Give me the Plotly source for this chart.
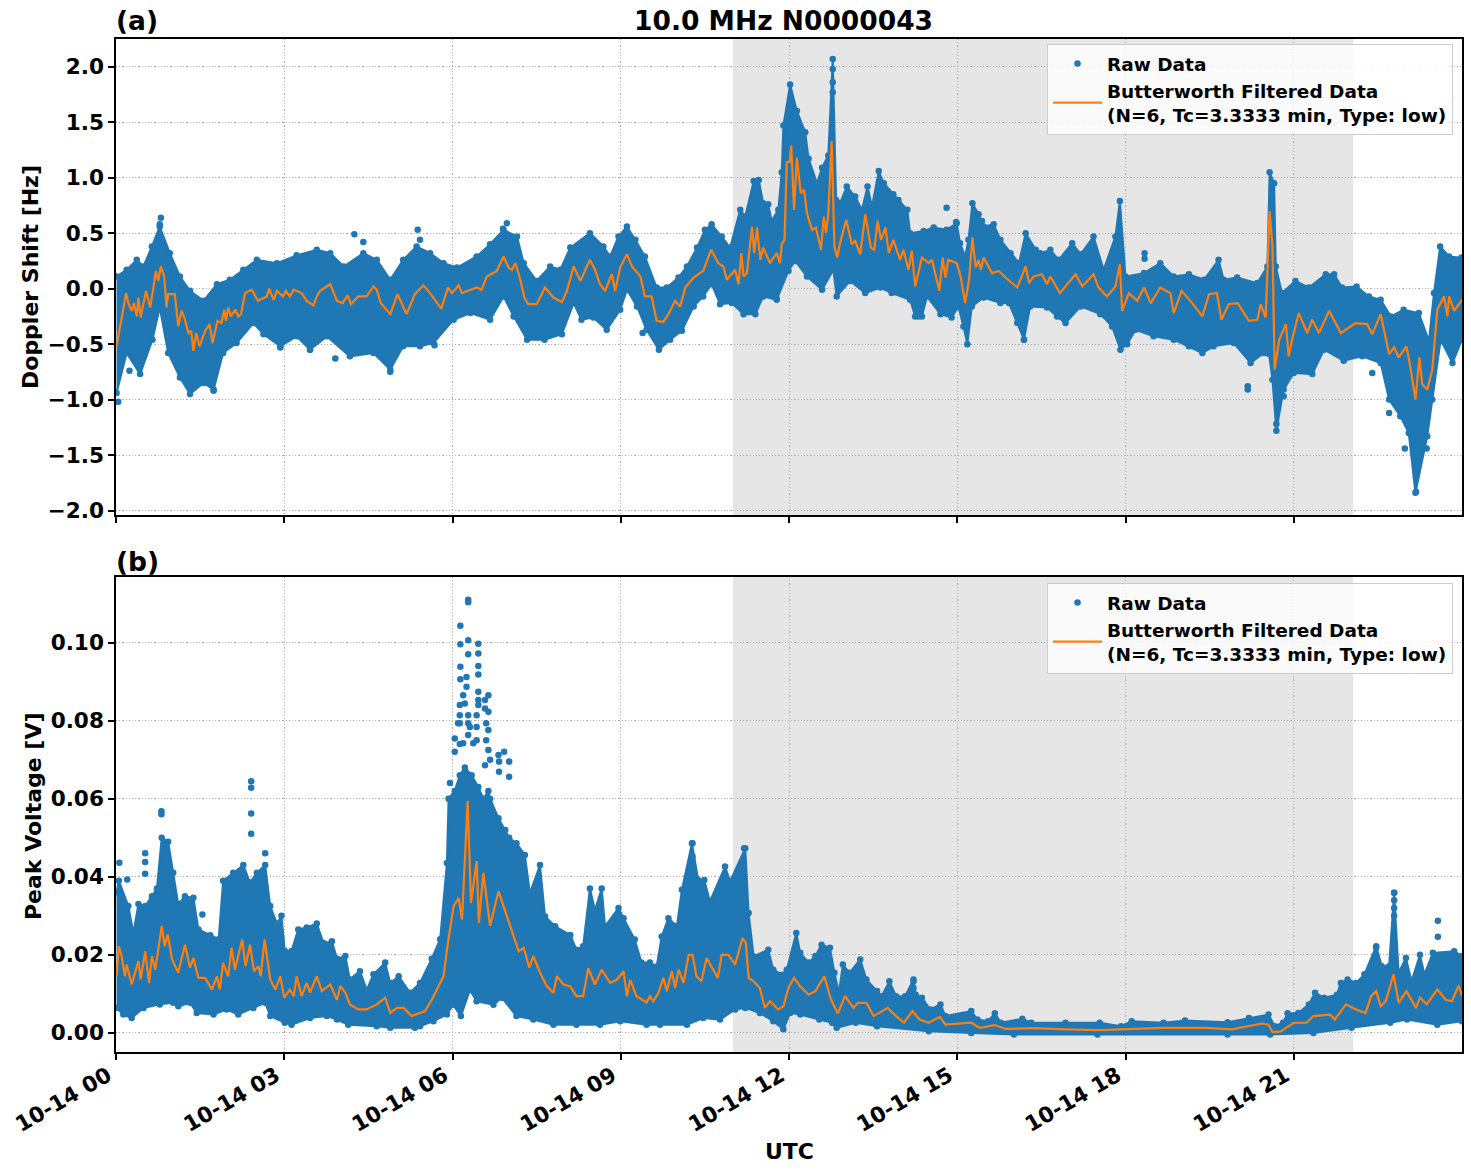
import pandas as pd
import plotly.graph_objects as go

# ---------- panel (a) Doppler shift: upper / lower edge of the raw cloud ----------
a_up_h = [0.01,0.19,0.37,0.49,0.64,0.78,0.96,1.14,1.32,1.56,1.8,2.03,2.27,2.51,2.87,3.22,3.58,3.82,4.06,4.41,4.65,4.89,5.12,5.36,5.6,5.84,6.08,6.43,6.67,6.91,7.15,7.27,7.5,7.74,7.92,8.1,8.45,8.69,8.81,8.96,9.11,9.26,9.43,9.64,9.82,10.03,10.18,10.36,10.5,10.62,10.8,10.95,11.13,11.22,11.37,11.46,11.54,11.63,11.69,11.81,11.87,11.9,12.02,12.14,12.29,12.35,12.5,12.59,12.7,12.78,12.84,12.91,13.03,13.18,13.3,13.4,13.48,13.6,13.69,13.86,13.95,14.11,14.16,14.4,14.58,14.81,14.99,15.05,15.14,15.2,15.27,15.38,15.47,15.65,15.77,15.95,16.1,16.22,16.4,16.48,16.66,16.81,17.05,17.2,17.43,17.61,17.82,17.9,18.0,18.33,18.62,18.86,19.13,19.4,19.66,19.75,19.99,20.35,20.53,20.57,20.65,20.68,20.79,21.03,21.27,21.57,21.72,21.86,22.12,22.34,22.55,22.73,22.96,23.23,23.41,23.5,23.61,23.77,23.99]
a_up_v = [0.11,0.17,0.26,0.2,0.38,0.56,0.32,0.11,-0.02,-0.11,0.04,0.08,0.17,0.26,0.23,0.3,0.35,0.32,0.2,0.32,0.26,0.08,0.26,0.38,0.32,0.23,0.19,0.29,0.4,0.53,0.47,0.23,0.07,0.2,0.17,0.37,0.5,0.38,0.29,0.47,0.56,0.44,0.29,0.01,0.01,0.1,0.2,0.37,0.53,0.58,0.47,0.37,0.71,0.65,0.97,0.98,0.77,0.76,0.61,0.71,1.05,1.47,1.84,1.6,1.41,1.17,0.95,1.09,1.2,2.07,0.8,0.77,0.92,0.83,0.71,0.92,0.74,1.06,0.95,0.85,0.8,0.71,0.5,0.52,0.55,0.53,0.59,0.41,0.29,0.44,0.77,0.67,0.56,0.58,0.44,0.32,0.23,0.5,0.35,0.32,0.35,0.26,0.41,0.31,0.47,0.17,0.47,0.79,0.11,0.14,0.23,0.11,0.13,0.08,0.26,0.08,0.1,0.05,0.2,1.05,0.95,0.2,-0.04,0.07,0.01,0.13,0.13,0.01,0.02,-0.07,-0.1,-0.25,-0.19,-0.22,-0.47,-0.04,0.38,0.29,0.28]
a_lo_h = [0.01,0.19,0.43,0.65,0.78,0.93,1.14,1.32,1.56,1.74,1.91,2.15,2.45,2.63,2.93,3.22,3.46,3.76,4.17,4.59,4.89,5.12,5.42,5.66,6.02,6.32,6.67,6.91,7.09,7.33,7.64,7.95,8.16,8.3,8.51,8.75,8.99,9.11,9.29,9.46,9.68,9.88,10.09,10.3,10.47,10.62,10.77,10.98,11.19,11.4,11.54,11.78,11.99,12.11,12.32,12.59,12.79,12.85,13.09,13.36,13.63,13.83,14.16,14.25,14.37,14.46,14.7,14.9,15.02,15.11,15.18,15.26,15.47,15.77,15.92,16.07,16.19,16.3,16.6,16.78,16.93,17.2,17.55,17.76,17.91,18.03,18.18,18.5,18.86,19.13,19.37,19.57,19.93,20.23,20.47,20.56,20.62,20.69,20.82,21.0,21.33,21.54,21.89,22.22,22.55,22.7,22.9,23.05,23.17,23.38,23.47,23.62,23.83,24.0]
a_lo_v = [-0.94,-0.58,-0.77,-0.46,-0.17,-0.58,-0.8,-0.95,-0.85,-0.91,-0.58,-0.49,-0.31,-0.41,-0.52,-0.43,-0.55,-0.43,-0.61,-0.58,-0.73,-0.52,-0.52,-0.49,-0.28,-0.22,-0.28,-0.07,-0.25,-0.46,-0.46,-0.41,-0.13,-0.28,-0.26,-0.37,-0.19,-0.01,-0.16,-0.37,-0.55,-0.46,-0.38,-0.16,-0.07,0.04,-0.14,-0.13,-0.23,-0.23,-0.07,-0.1,0.16,0.25,0.11,-0.01,0.17,-0.07,0.07,-0.04,0.01,-0.04,-0.1,-0.25,-0.25,-0.07,-0.23,-0.26,-0.16,-0.34,-0.5,-0.16,-0.08,-0.13,-0.13,-0.31,-0.46,-0.16,-0.17,-0.25,-0.31,-0.16,-0.23,-0.34,-0.55,-0.5,-0.37,-0.43,-0.46,-0.52,-0.58,-0.52,-0.49,-0.67,-0.58,-0.59,-0.82,-1.28,-0.91,-0.76,-0.77,-0.55,-0.65,-0.61,-0.67,-1.0,-1.15,-1.3,-1.84,-1.33,-1.0,-0.46,-0.67,-0.46]
a_out_h = [0.8,0.78,4.25,4.41,5.38,5.42,6.97,6.9,4.89,4.89,3.91,5.68,2.93,3.46,0.24,1.74,0.04,9.39,14.81,14.98,15.44,12.78,12.78,12.78,11.78,14.31,20.18,20.18,16.19,20.82,22.4,22.7,23.37,22.98,23.18,23.18,23.17,18.34,18.34,20.69]
a_out_v = [0.64,0.58,0.49,0.42,0.53,0.44,0.59,0.54,-0.75,-0.66,-0.63,-0.51,-0.53,-0.55,-0.74,-0.92,-1.02,-0.4,0.73,0.6,0.61,1.98,1.86,1.77,-0.09,-0.25,-0.88,-0.91,-0.46,-0.97,-0.76,-1.12,-1.44,-1.44,-1.7,-1.83,-1.6,0.32,0.27,-1.22]
a_flt_h = [0.01,0.07,0.18,0.22,0.28,0.32,0.37,0.4,0.44,0.535,0.61,0.67,0.71,0.755,0.8,0.86,0.9,0.93,1.05,1.11,1.17,1.23,1.29,1.34,1.38,1.43,1.49,1.59,1.67,1.72,1.81,1.88,1.93,1.96,2.0,2.05,2.13,2.18,2.23,2.3,2.42,2.53,2.69,2.73,2.81,2.87,2.98,3.03,3.1,3.17,3.31,3.4,3.52,3.58,3.64,3.82,3.94,4.04,4.13,4.19,4.32,4.47,4.59,4.65,4.72,4.89,5.02,5.18,5.33,5.48,5.6,5.8,5.92,5.99,6.11,6.17,6.43,6.52,6.61,6.79,6.91,7.0,7.06,7.12,7.21,7.28,7.35,7.5,7.65,7.8,7.95,8.04,8.16,8.28,8.45,8.54,8.63,8.72,8.84,8.9,8.99,9.11,9.2,9.35,9.43,9.55,9.64,9.76,9.85,9.97,10.06,10.15,10.3,10.47,10.61,10.74,10.83,10.89,11.04,11.1,11.15,11.19,11.25,11.34,11.38,11.43,11.49,11.54,11.66,11.78,11.84,11.87,11.92,11.96,12.01,12.04,12.09,12.14,12.21,12.27,12.32,12.41,12.48,12.57,12.62,12.66,12.7,12.76,12.81,12.86,12.91,13.02,13.12,13.18,13.27,13.36,13.46,13.52,13.58,13.64,13.72,13.78,13.86,13.98,14.04,14.13,14.19,14.25,14.37,14.49,14.55,14.68,14.74,14.79,14.84,14.99,15.06,15.14,15.21,15.27,15.33,15.38,15.42,15.47,15.62,15.74,15.86,16.07,16.22,16.28,16.36,16.51,16.6,16.66,16.83,17.11,17.23,17.43,17.52,17.67,17.82,17.9,17.94,18.06,18.21,18.33,18.45,18.62,18.8,18.86,19.0,19.19,19.37,19.49,19.63,19.71,19.84,20.0,20.2,20.35,20.41,20.5,20.57,20.62,20.66,20.74,20.86,20.91,20.97,21.09,21.24,21.33,21.45,21.63,21.84,22.1,22.31,22.4,22.55,22.7,22.79,22.87,23.01,23.07,23.17,23.24,23.29,23.38,23.47,23.56,23.68,23.74,23.77,23.86,24.0]
a_flt_v = [-0.52,-0.34,-0.04,-0.13,-0.2,-0.13,-0.25,-0.08,-0.26,-0.02,-0.17,0.02,0.16,0.07,0.2,0.11,-0.17,-0.05,-0.05,-0.34,-0.2,-0.28,-0.4,-0.38,-0.56,-0.4,-0.52,-0.38,-0.32,-0.49,-0.29,-0.31,-0.19,-0.29,-0.17,-0.25,-0.19,-0.25,-0.23,-0.04,-0.01,-0.11,-0.07,0.0,-0.1,-0.02,-0.07,-0.02,-0.07,-0.01,-0.04,-0.11,-0.15,-0.07,-0.02,0.04,-0.11,-0.13,-0.06,-0.14,-0.07,-0.07,0.02,-0.01,-0.13,-0.23,-0.05,-0.23,-0.05,0.03,-0.04,-0.18,0.01,-0.04,0.03,-0.04,0.01,-0.01,0.11,0.16,0.29,0.19,0.17,0.23,0.08,-0.08,-0.14,-0.14,0.01,-0.08,-0.12,-0.02,0.2,0.07,0.26,0.17,0.04,-0.02,0.13,-0.02,0.19,0.31,0.2,0.11,-0.07,-0.07,-0.29,-0.3,-0.23,-0.11,-0.16,0.01,0.1,0.16,0.35,0.23,0.2,0.08,0.17,0.04,0.32,0.11,0.14,0.56,0.32,0.55,0.26,0.37,0.23,0.32,0.23,0.4,0.44,1.14,1.14,1.29,0.71,1.18,0.86,0.89,0.68,0.53,0.55,0.35,0.65,0.5,0.67,1.33,0.38,0.28,0.41,0.62,0.4,0.43,0.31,0.67,0.37,0.35,0.61,0.44,0.55,0.32,0.44,0.26,0.35,0.17,0.34,0.02,0.28,0.23,0.26,-0.02,0.28,0.1,0.26,0.23,0.11,-0.13,0.08,0.46,0.19,0.26,0.17,0.28,0.14,0.16,0.1,0.01,0.2,0.05,0.11,0.13,0.04,0.11,-0.04,0.13,0.02,0.13,0.01,-0.07,0.02,0.22,-0.2,-0.04,-0.11,0.01,-0.13,0.01,-0.04,-0.22,-0.02,-0.13,-0.25,-0.05,-0.04,-0.28,-0.14,-0.13,-0.29,-0.28,-0.14,-0.26,0.7,0.38,-0.73,-0.46,-0.32,-0.61,-0.46,-0.22,-0.4,-0.28,-0.4,-0.2,-0.4,-0.31,-0.32,-0.41,-0.23,-0.59,-0.53,-0.62,-0.52,-0.68,-1.0,-0.62,-0.86,-0.91,-0.73,-0.19,-0.07,-0.25,-0.07,-0.2,-0.1]

# ---------- panel (b) Peak voltage ----------
b_up_h = [0.01,0.05,0.22,0.31,0.4,0.52,0.64,0.73,0.815,0.93,1.02,1.11,1.23,1.38,1.47,1.68,1.83,1.91,2.09,2.27,2.39,2.51,2.66,2.75,2.87,2.95,3.01,3.13,3.25,3.4,3.58,3.7,3.85,3.94,4.09,4.17,4.35,4.47,4.59,4.8,4.89,5.04,5.24,5.42,5.63,5.78,5.9,5.93,6.04,6.13,6.22,6.34,6.46,6.55,6.64,6.67,6.82,6.94,7.01,7.14,7.29,7.38,7.56,7.65,7.83,8.1,8.21,8.33,8.45,8.54,8.66,8.72,8.96,9.05,9.25,9.37,9.52,9.64,9.73,9.85,10.0,10.09,10.27,10.38,10.49,10.59,10.86,10.95,11.22,11.28,11.37,11.63,11.72,11.87,11.96,12.13,12.2,12.35,12.47,12.58,12.73,12.81,12.89,12.96,13.08,13.27,13.38,13.57,13.65,13.79,13.91,14.07,14.22,14.26,14.37,14.52,14.7,14.79,15.25,15.36,15.55,15.67,15.78,16.16,16.32,16.93,17.54,17.92,18.11,18.68,19.06,19.82,20.2,20.55,20.66,20.81,20.89,21.08,21.27,21.38,21.54,21.77,21.84,21.96,22.11,22.26,22.47,22.57,22.7,22.79,22.87,23.0,23.1,23.25,23.33,23.48,23.86,24.0]
b_up_v = [0.036,0.039,0.0325,0.0256,0.033,0.0325,0.035,0.037,0.05,0.049,0.041,0.033,0.035,0.0346,0.0265,0.025,0.024,0.039,0.041,0.043,0.0385,0.041,0.043,0.0325,0.028,0.03,0.021,0.021,0.0265,0.027,0.028,0.023,0.0235,0.019,0.0197,0.0137,0.0158,0.011,0.015,0.018,0.0128,0.0145,0.0103,0.0128,0.019,0.024,0.0435,0.06,0.062,0.066,0.068,0.066,0.063,0.06,0.062,0.06,0.055,0.052,0.05,0.0486,0.0456,0.0358,0.043,0.0298,0.0273,0.0251,0.0213,0.0222,0.037,0.0315,0.037,0.0273,0.032,0.0294,0.0239,0.018,0.018,0.017,0.0247,0.0294,0.0273,0.0367,0.0486,0.0392,0.0392,0.0337,0.0426,0.0388,0.0473,0.0307,0.0196,0.0213,0.0162,0.0149,0.0162,0.0256,0.0205,0.018,0.0197,0.0226,0.0218,0.0154,0.0103,0.0175,0.0154,0.0188,0.0137,0.0107,0.0094,0.0132,0.0094,0.0094,0.0137,0.0098,0.009,0.006,0.0073,0.0043,0.0056,0.0034,0.003,0.005,0.0026,0.0036,0.0026,0.0026,0.0026,0.0017,0.003,0.0026,0.0032,0.0027,0.0038,0.0047,0.0017,0.0026,0.005,0.0051,0.0073,0.0103,0.009,0.0098,0.0128,0.0137,0.0128,0.015,0.0222,0.0171,0.0171,0.0359,0.0154,0.0192,0.0132,0.02,0.015,0.0205,0.0209,0.0197]
b_lo_h = [0.01,0.13,0.28,0.49,0.78,1.02,1.11,1.32,1.44,1.74,1.97,2.18,2.45,2.66,2.75,3.01,3.13,3.46,3.76,3.94,4.14,4.65,4.89,5.33,5.42,5.66,5.9,6.01,6.15,6.31,6.43,6.73,6.88,7.14,7.44,7.8,8.21,8.63,8.99,9.46,9.7,10.18,10.47,10.77,11.04,11.22,11.48,11.72,11.9,12.02,12.2,12.54,12.77,12.85,13.19,13.57,14.49,15.25,16.01,17.5,19.82,20.58,21.35,22.03,22.72,23.02,23.56,24.0]
b_lo_v = [0.0064,0.0047,0.0038,0.0064,0.0073,0.0077,0.0068,0.0077,0.0051,0.0047,0.006,0.0047,0.0064,0.0077,0.0043,0.0026,0.0021,0.0038,0.0043,0.0034,0.0021,0.0017,0.0013,0.0013,0.0017,0.003,0.0047,0.0072,0.0043,0.011,0.0081,0.0072,0.009,0.0043,0.0034,0.0021,0.0021,0.0021,0.003,0.0021,0.0021,0.0021,0.0038,0.0034,0.006,0.0064,0.0051,0.003,0.0009,0.0051,0.0047,0.0034,0.0026,0.0013,0.0026,0.0017,0.0004,0.0,-0.0004,-0.0004,-0.0004,-0.0004,0.0,0.0013,0.0026,0.0034,0.0021,0.003]
b_out_h = [2.41,2.41,2.41,2.41,0.81,0.81,0.52,0.52,0.52,0.06,0.2,2.66,1.54,6.28,6.28,6.14,6.14,6.28,6.28,6.46,6.46,6.46,6.46,6.14,6.14,6.25,6.92,7.01,7.01,10.28,10.28,10.28,11.2,22.79,22.79,22.79,22.79,23.57,23.57,22.47,14.22,14.22,6.04,6.04,5.955,6.13,6.13,6.13,6.1,6.13,6.19,6.25,6.28,6.28,6.28,6.22,6.43,6.43,6.46,6.46,6.46,6.58,6.64,6.64,6.58,6.6,6.64,6.6,6.64,6.82,6.83,6.83,6.67,6.58,6.19,6.37,6.43,6.31]
b_out_v = [0.0645,0.0628,0.0562,0.051,0.0568,0.056,0.046,0.0438,0.0408,0.0436,0.0393,0.046,0.0303,0.111,0.1103,0.1043,0.0996,0.1006,0.097,0.0997,0.0972,0.094,0.0918,0.0938,0.0906,0.0912,0.072,0.0695,0.0656,0.0486,0.0452,0.0436,0.0473,0.0359,0.034,0.032,0.03,0.0287,0.0246,0.0218,0.0132,0.0115,0.0754,0.072,0.064,0.0814,0.084,0.0793,0.0793,0.074,0.0865,0.0887,0.0814,0.0793,0.0763,0.0844,0.0814,0.0784,0.0874,0.0853,0.084,0.0853,0.0865,0.0823,0.0831,0.0793,0.0776,0.075,0.0725,0.0712,0.0695,0.0669,0.07,0.0686,0.0742,0.0742,0.075,0.0784]
b_flt_h = [0.01,0.05,0.1,0.16,0.19,0.28,0.4,0.44,0.52,0.59,0.64,0.7,0.815,0.87,0.92,1.0,1.11,1.23,1.32,1.38,1.47,1.59,1.71,1.8,1.85,1.91,2.0,2.06,2.12,2.25,2.31,2.39,2.46,2.54,2.58,2.65,2.75,2.84,2.93,3.0,3.1,3.17,3.22,3.31,3.4,3.46,3.58,3.67,3.82,3.94,4.0,4.09,4.17,4.32,4.47,4.65,4.8,4.89,5.01,5.13,5.27,5.51,5.63,5.84,5.91,6.02,6.11,6.17,6.27,6.33,6.43,6.47,6.55,6.67,6.82,6.97,7.09,7.18,7.27,7.37,7.44,7.55,7.68,7.8,7.86,7.98,8.1,8.21,8.33,8.42,8.54,8.66,8.81,8.93,9.05,9.11,9.17,9.28,9.46,9.52,9.58,9.67,9.76,9.82,9.91,9.97,10.03,10.12,10.21,10.28,10.35,10.44,10.53,10.65,10.73,10.8,10.92,11.04,11.1,11.17,11.23,11.28,11.37,11.48,11.57,11.66,11.81,11.9,11.99,12.09,12.2,12.35,12.47,12.63,12.75,12.87,13.0,13.15,13.23,13.38,13.51,13.76,13.91,14.05,14.2,14.33,14.49,14.69,14.79,15.25,15.4,15.67,15.86,16.39,16.93,17.54,17.92,18.68,19.44,19.9,20.43,20.55,20.62,20.77,21.0,21.23,21.35,21.65,21.73,21.93,22.11,22.28,22.38,22.47,22.55,22.64,22.78,22.87,23.01,23.18,23.25,23.37,23.56,23.71,23.82,23.94,24.0]
b_flt_v = [0.0145,0.0222,0.0197,0.0145,0.0175,0.0124,0.0184,0.0137,0.0209,0.0128,0.0197,0.0162,0.0274,0.0222,0.0252,0.0188,0.0154,0.0226,0.0167,0.0192,0.0141,0.0141,0.0111,0.0145,0.0111,0.0179,0.0145,0.0218,0.0162,0.0239,0.0171,0.0226,0.0158,0.0171,0.0145,0.0239,0.0137,0.0111,0.0145,0.009,0.0111,0.0094,0.0145,0.0094,0.0128,0.0103,0.0145,0.0107,0.0124,0.0085,0.012,0.0103,0.0073,0.006,0.006,0.0073,0.009,0.0051,0.0064,0.0064,0.0043,0.0056,0.0085,0.0145,0.0222,0.0325,0.0346,0.029,0.0594,0.0333,0.044,0.0282,0.041,0.0274,0.0363,0.03,0.0248,0.0209,0.0218,0.0167,0.0197,0.0158,0.012,0.0103,0.0145,0.0124,0.0119,0.0094,0.0094,0.0166,0.0124,0.0162,0.0128,0.0136,0.0158,0.0094,0.0136,0.0094,0.0078,0.0094,0.0081,0.0102,0.0141,0.0107,0.0158,0.0115,0.0162,0.0128,0.02,0.02,0.0145,0.0132,0.0192,0.0162,0.0141,0.02,0.02,0.0175,0.0209,0.0243,0.023,0.0141,0.0132,0.0115,0.0064,0.0081,0.006,0.0068,0.0115,0.0141,0.0119,0.0098,0.0107,0.0145,0.0085,0.005,0.0094,0.0064,0.0077,0.0077,0.0043,0.0064,0.0043,0.0026,0.0056,0.0034,0.0026,0.0041,0.0021,0.0026,0.0013,0.002,0.001,0.0012,0.0009,0.0007,0.0009,0.0013,0.0013,0.0009,0.0024,0.0021,0.0002,0.0004,0.0026,0.0026,0.0043,0.0047,0.0034,0.0073,0.006,0.0051,0.0094,0.0107,0.0068,0.0081,0.015,0.0077,0.0107,0.0064,0.009,0.0073,0.0111,0.0085,0.0081,0.0121,0.0094]

tick_hours = [0, 3, 6, 9, 12, 15, 18, 21]
shade_hours = [11.0, 22.06]
x_end_hours = 24.0
day = pd.Timestamp("2023-10-14")

title_text = "10.0 MHz N0000043"
raw_name = "Raw Data"
flt_name = "Butterworth Filtered Data<br>(N=6, Tc=3.3333 min, Type: low)"


def when(hours):
    return [day + pd.Timedelta(hours=h) for h in hours]


W, H = 1471, 1172
FONT = "DejaVu Sans"
BLUE, ORANGE = "#1f77b4", "#ff7f0e"
dx = [116 / W, 1462 / W]
dya = [1 - 515 / H, 1 - 39 / H]
dyb = [1 - 1052 / H, 1 - 577 / H]


def bold(size):
    return dict(family=FONT, size=size, color="black", weight=700)


fig = go.Figure()


def add_panel(up_h, up_v, lo_h, lo_v, out_h, out_v, f_h, f_v, xa, ya, leg):
    fig.add_trace(go.Scatter(
        x=when(up_h + lo_h[::-1]), y=up_v + lo_v[::-1], xaxis=xa, yaxis=ya,
        mode="lines", fill="toself", fillcolor=BLUE,
        line=dict(color=BLUE, width=2), showlegend=False, hoverinfo="skip"))
    fig.add_trace(go.Scatter(
        x=when(up_h + lo_h + out_h), y=up_v + lo_v + out_v, xaxis=xa, yaxis=ya,
        mode="markers", marker=dict(color=BLUE, size=6.5),
        name=raw_name, legend=leg))
    fig.add_trace(go.Scatter(
        x=when(f_h), y=f_v, xaxis=xa, yaxis=ya, mode="lines",
        line=dict(color=ORANGE, width=2.2), name=flt_name, legend=leg))


add_panel(a_up_h, a_up_v, a_lo_h, a_lo_v, a_out_h, a_out_v, a_flt_h, a_flt_v, "x", "y", "legend")
add_panel(b_up_h, b_up_v, b_lo_h, b_lo_v, b_out_h, b_out_v, b_flt_h, b_flt_v, "x2", "y2", "legend2")

axis_common = dict(
    showline=True, linecolor="black", linewidth=1.5, mirror=True,
    ticks="outside", ticklen=6, tickwidth=1.5, tickcolor="black",
    showgrid=True, gridcolor="#b0b0b0", griddash="1.2px,2px", gridwidth=1,
    zeroline=False, tickfont=bold(21.6), automargin=False,
)
x_range = when([0, x_end_hours])
fig.update_layout(
    width=W, height=H, margin=dict(l=0, r=0, t=0, b=0), autosize=False,
    paper_bgcolor="white", plot_bgcolor="white", font=dict(family=FONT),
    xaxis=dict(domain=dx, range=x_range, type="date", anchor="y",
               tickvals=when(tick_hours), showticklabels=False, **axis_common),
    xaxis2=dict(domain=dx, range=x_range, type="date", anchor="y2",
                tickvals=when(tick_hours), tickformat="%m-%d %H", tickangle=-30,
                ticklabelshift=-8, ticklabelstandoff=-5, **axis_common),
    yaxis=dict(domain=dya, range=[-2.04, 2.25], anchor="x",
               tickvals=[-2, -1.5, -1, -0.5, 0, 0.5, 1, 1.5, 2], tickformat=".1f",
               **axis_common),
    yaxis2=dict(domain=dyb, range=[-0.0049, 0.1168], anchor="x2",
                tickvals=[0, 0.02, 0.04, 0.06, 0.08, 0.1], tickformat=".2f",
                **axis_common),
)

legend_common = dict(
    xanchor="right", yanchor="top", x=1453 / W,
    bgcolor="rgba(255,255,255,0.8)", bordercolor="#cccccc", borderwidth=1,
    font=bold(18.5), itemsizing="trace", itemwidth=49,
)
fig.update_layout(
    legend=dict(y=1 - 44 / H, **legend_common),
    legend2=dict(y=1 - 583 / H, **legend_common),
)

for yr in ("y", "y2"):
    fig.add_shape(type="rect", xref="x" if yr == "y" else "x2", yref=f"{yr} domain",
                  x0=when(shade_hours)[0], x1=when(shade_hours)[1], y0=0, y1=1,
                  fillcolor="rgba(128,128,128,0.2)", line_width=0, layer="below")


def note(text, px, py, size, xanchor="center", yanchor="middle", angle=0):
    fig.add_annotation(text=text, xref="paper", yref="paper", x=px / W, y=1 - py / H,
                       xanchor=xanchor, yanchor=yanchor, textangle=angle,
                       showarrow=False, font=bold(size))


note("(a)", 114, 21, 26.5, xanchor="left")
note("(b)", 114, 561, 26.5, xanchor="left")
note(title_text, 784, 21, 26.5)
note("Doppler Shift [Hz]", 30, 277, 22, angle=-90)
note("Peak Voltage [V]", 33, 816, 22, angle=-90)
note("UTC", 789, 1151, 22)

fig.write_html("out.html", config=dict(displayModeBar=False),
               post_script="document.body.style.margin='0';document.body.style.overflow='hidden';")
